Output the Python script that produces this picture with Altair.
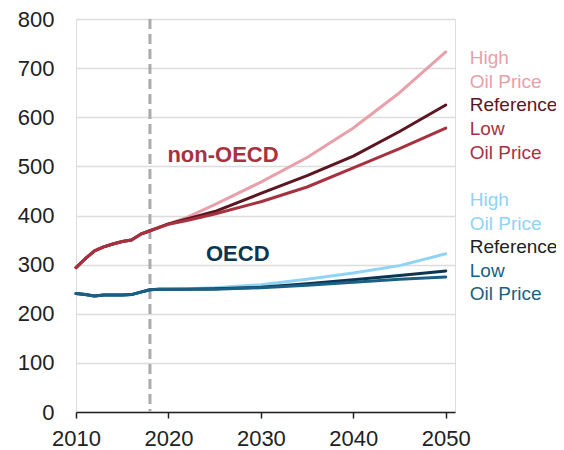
import altair as alt
import pandas as pd

FONT = "Liberation Sans"

# ---- data ----
hist_years = [2010, 2011, 2012, 2013, 2014, 2015, 2016, 2017, 2018, 2019]
nonoecd_hist = [294, 312, 328, 336, 342, 347, 350, 362, 369, 376]
oecd_hist = [241, 239, 236, 238, 238, 238, 239, 244, 249, 250]

proj_years = [2020, 2022, 2025, 2030, 2035, 2040, 2045, 2050]
nonoecd_high = [383, 396, 422, 468, 518, 578, 650, 733]
nonoecd_ref = [383, 393, 408, 445, 481, 521, 571, 625]
nonoecd_low = [382, 390, 403, 428, 458, 497, 536, 578]
oecd_high = [250, 251, 253, 259, 270, 283, 298, 322]
oecd_ref = [250, 250, 251, 254, 261, 269, 278, 287]
oecd_low = [250, 250, 250, 253, 258, 264, 270, 275]

series_names = ["nonOECD High", "nonOECD Reference", "nonOECD Low",
                "OECD High", "OECD Reference", "OECD Low"]
series_colors = ["#e8a0aa", "#5c1622", "#a8313f",
                 "#8fd3f5", "#0b3550", "#1b5f85"]
series_values = [nonoecd_high, nonoecd_ref, nonoecd_low,
                 oecd_high, oecd_ref, oecd_low]
series_hist = [nonoecd_hist] * 3 + [oecd_hist] * 3

base_year = [2018]

# right-hand labels
label_text = ["High", "Oil Price", "Reference", "Low", "Oil Price",
              "High", "Oil Price", "Reference", "Low", "Oil Price"]
label_y = [720, 672, 624, 576, 528, 432, 383, 336, 287, 240]
label_color = ["#e8a0aa", "#e8a0aa", "#5c1622", "#a8313f", "#a8313f",
               "#8fd3f5", "#8fd3f5", "#222222", "#1b5f85", "#1b5f85"]

region_text = ["non-OECD", "OECD"]
region_x = [2025.9, 2027.5]
region_y = [523, 321]
region_color = ["#a8313f", "#0b3550"]

# ---- build ----
xscale = alt.Scale(domain=[2010, 2051], nice=False, zero=False)
yscale = alt.Scale(domain=[0, 800], nice=False)

xaxis = alt.Axis(values=[2010, 2020, 2030, 2040, 2050], format="d", title=None,
                 labelFontSize=22, labelColor="#222222", labelFont=FONT,
                 domainColor="#222222", domainWidth=1.5, tickColor="#222222",
                 tickWidth=1.5, tickSize=6, labelPadding=10, grid=False,
                 labelFlush=False)
yaxis = alt.Axis(values=list(range(0, 801, 100)), title=None, labelFontSize=22,
                 labelColor="#222222", labelFont=FONT, domain=False, ticks=False,
                 labelPadding=22, grid=True, gridColor="#dcdcdc", gridWidth=1.5)

layers = []

rule_df = pd.DataFrame({"year": base_year})
layers.append(
    alt.Chart(rule_df).mark_rule(color="#ababab", strokeWidth=3, strokeDash=[10, 5])
    .encode(x=alt.X("year:Q", scale=xscale, axis=xaxis),
            y=alt.value(0), y2=alt.value(393))
)

for name, col, vals, hist in zip(series_names, series_colors, series_values, series_hist):
    df = pd.DataFrame({"year": hist_years + proj_years, "value": hist + vals})
    layers.append(
        alt.Chart(df).mark_line(color=col, strokeWidth=3, strokeCap="round", strokeJoin="round")
        .encode(x=alt.X("year:Q", scale=xscale, axis=xaxis),
                y=alt.Y("value:Q", scale=yscale, axis=yaxis))
    )

lab_df = pd.DataFrame({"year": [2050] * len(label_text), "value": label_y,
                       "text": label_text, "c": label_color})
layers.append(
    alt.Chart(lab_df).mark_text(align="left", baseline="middle", dx=24,
                                fontSize=19, font=FONT)
    .encode(x=alt.X("year:Q", scale=xscale), y=alt.Y("value:Q", scale=yscale),
            text="text:N", color=alt.Color("c:N", scale=None))
)

reg_df = pd.DataFrame({"year": region_x, "value": region_y,
                       "text": region_text, "c": region_color})
layers.append(
    alt.Chart(reg_df).mark_text(align="center", baseline="middle", fontSize=22,
                                fontWeight="bold", font=FONT)
    .encode(x=alt.X("year:Q", scale=xscale), y=alt.Y("value:Q", scale=yscale),
            text="text:N", color=alt.Color("c:N", scale=None))
)

chart = (
    alt.layer(*layers)
    .properties(width=379, height=393,
                autosize=alt.AutoSizeParams(type="none"),
                padding={"left": 68, "top": 11, "right": 101, "bottom": 38})
    .configure_view(stroke=None)
    .configure(background="white")
)

chart.save("out.html", embed_options={"renderer": "svg", "actions": False})
